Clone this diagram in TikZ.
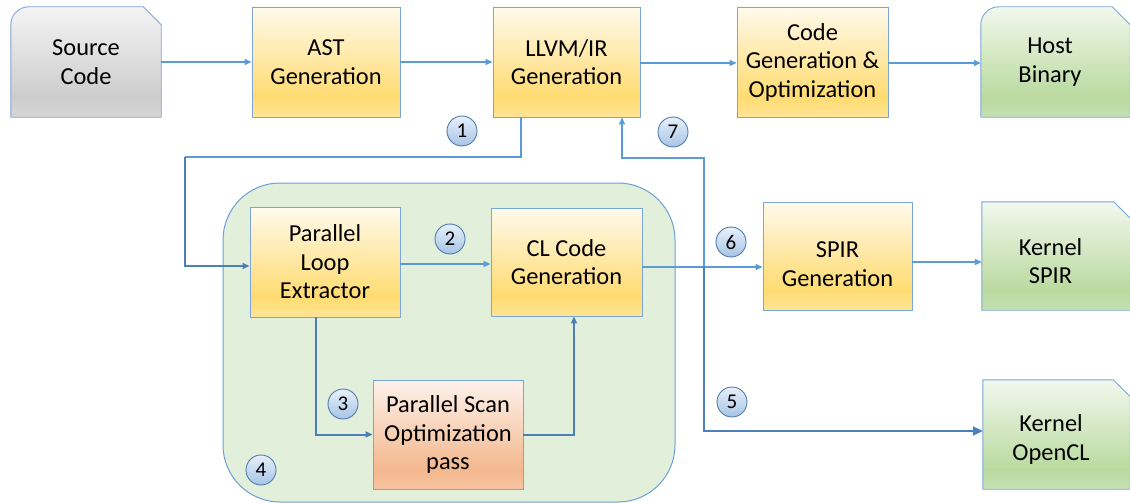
\documentclass[tikz,border=0pt]{standalone}
\usepackage{fontspec}
\setmainfont{Carlito}
\usetikzlibrary{arrows.meta,calc}
\definecolor{bcol}{HTML}{7AA6DA}
\definecolor{lcol}{HTML}{5B9BD5}
\definecolor{dcol}{HTML}{4C7EB8}
\definecolor{ccol}{HTML}{4F7CAC}
\definecolor{contfill}{HTML}{E2EFDA}
\definecolor{contline}{HTML}{6A9FD8}
\definecolor{yT}{HTML}{FFFAEC}
\definecolor{yM}{HTML}{FFDB70}
\definecolor{yB}{HTML}{FFE597}
\definecolor{gT}{HTML}{F2F8EE}
\definecolor{gM}{HTML}{B9DA9F}
\definecolor{gB}{HTML}{C6E1B3}
\definecolor{sT}{HTML}{F4F4F4}
\definecolor{sM}{HTML}{CDCDCD}
\definecolor{sB}{HTML}{D6D6D6}
\definecolor{oT}{HTML}{FDF2EC}
\definecolor{oM}{HTML}{F4B88E}
\definecolor{oB}{HTML}{F6C4A1}
\definecolor{cT}{HTML}{E8F0FA}
\definecolor{cB}{HTML}{A6C4E6}
\pgfdeclareverticalshading{ygrad}{100bp}{color(0bp)=(yB); color(25bp)=(yB); color(34bp)=(yM); color(75bp)=(yT); color(100bp)=(yT)}
\pgfdeclareverticalshading{ggrad}{100bp}{color(0bp)=(gB); color(25bp)=(gB); color(34bp)=(gM); color(75bp)=(gT); color(100bp)=(gT)}
\pgfdeclareverticalshading{sgrad}{100bp}{color(0bp)=(sB); color(25bp)=(sB); color(34bp)=(sM); color(75bp)=(sT); color(100bp)=(sT)}
\pgfdeclareverticalshading{ograd}{100bp}{color(0bp)=(oB); color(25bp)=(oB); color(34bp)=(oM); color(75bp)=(oT); color(100bp)=(oT)}
\pgfdeclareverticalshading{cgrad}{100bp}{color(0bp)=(cB); color(25bp)=(cB); color(75bp)=(cT); color(100bp)=(cT)}
\pgfdeclarelayer{back}
\pgfdeclarelayer{bg}
\pgfsetlayers{back,bg,main}
\newcommand\docround[3]{%
  \path[shade, shading=#2, draw=bcol, line width=0.9pt]
  (#1.south west) -- ([yshift=-18pt]#1.north west) arc[start angle=180,end angle=90,radius=18pt]
  -- ([xshift={#3-18pt}]#1.north east) -- ([xshift=#3, yshift=-18pt]#1.north east)
  -- ([xshift=#3]#1.south east) -- cycle;}
\newcommand\docsharp[3]{%
  \path[shade, shading=#2, draw=bcol, line width=0.9pt]
  (#1.south west) -- (#1.north west)
  -- ([xshift={#3-17pt}]#1.north east) -- ([xshift=#3, yshift=-17pt]#1.north east)
  -- ([xshift=#3]#1.south east) -- cycle;}
\begin{document}
\begin{tikzpicture}[x=1pt,y=-1pt,
  txt/.style={font=\fontsize{24.4}{28.5}\selectfont, align=center, inner sep=0pt},
  ybox/.style={txt, shade, shading=ygrad, draw=bcol, line width=0.9pt, minimum width=150pt, minimum height=110pt},
  obox/.style={ybox, shading=ograd},
  docnode/.style={txt, minimum width=150pt, minimum height=110pt},
  group/.style={fill=contfill, draw=contline, line width=1pt, rounded corners=57pt},
  line/.style={draw=lcol, line width=1.7pt},
  conn/.style={line, -{Triangle[length=7pt,width=6pt]}},
  dline/.style={draw=dcol, line width=2pt},
  dconn/.style={dline, -{Triangle[length=7pt,width=6pt]}},
  bigtip/.style={-{Triangle[length=10pt,width=9pt]}},
  num/.style={circle, shade, shading=cgrad, draw=ccol, line width=0.9pt, minimum size=30pt, inner sep=0pt, font=\fontsize{21}{22}\selectfont},
]
\useasboundingbox (0,0) rectangle (1130,503);

% group container
\begin{pgfonlayer}{back}
\node[group, minimum width=452pt, minimum height=319pt] (grp) at (449,342.5) {};
\end{pgfonlayer}

% top row
\node[docnode, minimum width=150pt] (src) at (86,62) {Source\\Code};
\node[ybox, minimum width=148pt] (ast) at (326,62) {AST\\Generation};
\node[ybox, minimum width=147pt] (llvm) at (566.5,62) {LLVM/IR\\Generation};
\node[ybox, minimum width=151pt] (cg) at (812.5,62) {Code\\Generation \&\\Optimization};
\node[docnode, minimum width=138pt] (host) at (1050,62) {Host\\Binary};

% second row
\node[ybox] (ple) at (325,262) {Parallel\\Loop\\Extractor};
\node[ybox, minimum width=151pt, minimum height=108pt] (clc) at (566.5,262) {CL Code\\Generation};
\node[ybox, minimum width=149pt, minimum height=108pt,
  label={[txt, yshift=-8pt]center:{SPIR\\Generation}}] (spir) at (837.5,256) {};
\node[docnode, minimum width=137pt, minimum height=108pt,
  label={[txt, yshift=-5pt]center:{Kernel\\SPIR}}] (ksp) at (1050.5,256) {};

% bottom row
\node[obox, minimum width=150pt, minimum height=109pt] (scan) at (448,434.5) {Parallel Scan\\Optimization\\pass};
\node[docnode, minimum width=136pt, minimum height=109pt,
  label={[txt, yshift=-5pt]center:{Kernel\\OpenCL}}] (kocl) at (1051,434.5) {};

% document shapes
\begin{pgfonlayer}{bg}
\docround{src}{sgrad}{0pt}
\docround{host}{ggrad}{11pt}
\docsharp{ksp}{ggrad}{11.5pt}
\docsharp{kocl}{ggrad}{11pt}
\end{pgfonlayer}

% step numbers
\node[num] (n1) at (462,131) {1};
\node[num] (n7) at (673,132) {7};
\node[num] (n2) at (450,239) {2};
\node[num] (n6) at (731,242) {6};
\node[num] (n3) at (343,404) {3};
\node[num] (n4) at (261,470) {4};
\node[num] (n5) at (732,402) {5};

% helper points
\coordinate (k1) at (185,157);
\coordinate (j) at (704,267);
\coordinate (k7) at (704,158);

% connectors
\draw[conn] (src) -- (ast);
\draw[conn] (ast) -- (llvm);
\draw[conn] ([yshift=-1pt]llvm.east) -- ([yshift=-1pt]cg.west);
\draw[conn] ([yshift=-1pt]cg.east) -- ([yshift=-1pt]host.west);
\draw[line] ([xshift=-45.5pt]llvm.south) |- (k1);
\draw[dconn] (k1) |- ([yshift=-4pt]ple.west);
\draw[conn] ([yshift=-2pt]ple.east) -- ([yshift=-2pt]clc.west);
\draw[line] ([yshift=-5pt]clc.east) -- (j);
\draw[conn] (j) -- ([yshift=-11pt]spir.west);
\draw[conn] (j) -- (k7) -| ([xshift=55.5pt]llvm.south);
\draw[dline, bigtip] (j) |- ([yshift=3.5pt]kocl.west);
\draw[dconn] ([xshift=-9pt]ple.south) |- (scan.west);
\draw[dconn] (scan.east) -| ([xshift=7.5pt]clc.south);
\draw[conn] ([yshift=-6pt]spir.east) -- ([yshift=-6pt]ksp.west);
\end{tikzpicture}
\end{document}
